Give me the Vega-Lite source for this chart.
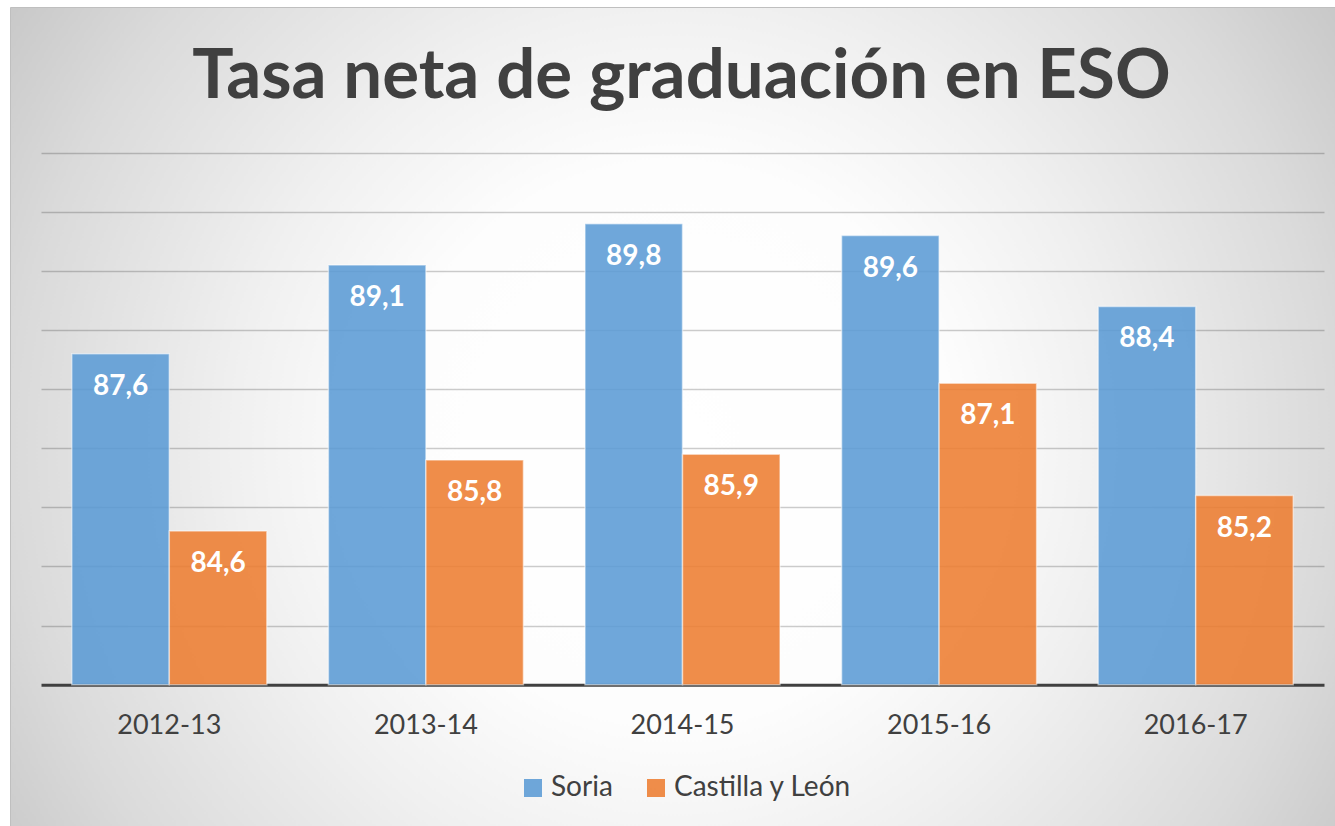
{
  "$schema": "https://vega.github.io/schema/vega-lite/v6.json",
  "width": 1325,
  "height": 819,
  "autosize": {"type": "none"},
  "padding": {"left": 10, "top": 7, "right": 0, "bottom": 0},
  "background": "#ffffff",
  "config": {
    "font": "Lato",
    "locale": {"number": {"decimal": ",", "thousands": ".", "grouping": [3], "currency": ["", " €"]}},
    "view": {
      "stroke": "#bfbfbf",
      "strokeWidth": 1,
      "fill": {
        "gradient": "radial",
        "x1": 0.5, "y1": 0.52, "r1": 0,
        "x2": 0.5, "y2": 0.52, "r2": 0.6,
        "stops": [
          {"offset": 0, "color": "#ffffff"},
          {"offset": 0.35, "color": "#fdfdfd"},
          {"offset": 0.55, "color": "#f0f0f0"},
          {"offset": 0.83, "color": "#dadada"},
          {"offset": 1, "color": "#c8c8c8"}
        ]
      }
    }
  },
  "title": {
    "text": "Tasa neta de graduación en ESO",
    "font": "Lato",
    "fontSize": 69,
    "fontWeight": "bold",
    "color": "#404040",
    "anchor": "middle",
    "frame": "group",
    "baseline": "alphabetic",
    "offset": -160,
    "dx": 9
  },
  "data": {
    "values": [
      {"curso": "2012-13", "serie": "Soria", "valor": 87.6},
      {"curso": "2012-13", "serie": "Castilla y León", "valor": 84.6},
      {"curso": "2013-14", "serie": "Soria", "valor": 89.1},
      {"curso": "2013-14", "serie": "Castilla y León", "valor": 85.8},
      {"curso": "2014-15", "serie": "Soria", "valor": 89.8},
      {"curso": "2014-15", "serie": "Castilla y León", "valor": 85.9},
      {"curso": "2015-16", "serie": "Soria", "valor": 89.6},
      {"curso": "2015-16", "serie": "Castilla y León", "valor": 87.1},
      {"curso": "2016-17", "serie": "Soria", "valor": 88.4},
      {"curso": "2016-17", "serie": "Castilla y León", "valor": 85.2}
    ]
  },
  "encoding": {
    "x": {
      "field": "curso",
      "type": "nominal",
      "sort": null,
      "scale": {"range": [31, 1314], "paddingInner": 0.24, "paddingOuter": 0.12},
      "axis": {
        "title": null,
        "orient": "bottom",
        "offset": -141.3,
        "domainColor": "#404040",
        "domainWidth": 3,
        "ticks": false,
        "tickSize": 0,
        "grid": false,
        "labelAngle": 0,
        "labelFontSize": 27,
        "labelColor": "#404040",
        "labelPadding": 41,
        "labelBaseline": "middle"
      }
    },
    "xOffset": {
      "field": "serie",
      "type": "nominal",
      "sort": ["Soria", "Castilla y León"],
      "scale": {"paddingInner": 0, "paddingOuter": 0}
    },
    "y": {
      "field": "valor",
      "type": "quantitative",
      "scale": {"domain": [79.609, 93.467], "nice": false, "zero": false},
      "axis": {
        "title": null,
        "labels": false,
        "ticks": false,
        "domain": false,
        "grid": true,
        "values": [83, 84, 85, 86, 87, 88, 89, 90, 91],
        "gridColor": "#000000",
        "gridOpacity": 0.2,
        "gridWidth": 1.3
      }
    }
  },
  "layer": [
    {
      "mark": {
        "type": "bar",
        "fillOpacity": 0.88,
        "stroke": "#ffffff",
        "strokeOpacity": 0.5,
        "strokeWidth": 1.5
      },
      "encoding": {
        "y2": {"datum": 82},
        "color": {
          "field": "serie",
          "type": "nominal",
          "sort": ["Soria", "Castilla y León"],
          "scale": {"domain": ["Soria", "Castilla y León"], "range": ["#5b9bd5", "#ed7d31"]},
          "legend": {
            "title": null,
            "orient": "none",
            "legendX": 509,
            "legendY": 767,
            "direction": "horizontal",
            "symbolType": "square",
            "symbolSize": 324,
            "symbolOpacity": 0.88,
            "symbolStrokeWidth": 0,
            "labelFontSize": 28,
            "labelColor": "#404040",
            "labelOffset": 4,
            "labelLimit": 400,
            "columnPadding": 29
          }
        }
      }
    },
    {
      "mark": {
        "type": "text",
        "baseline": "middle",
        "align": "center",
        "dy": 33,
        "fontSize": 28,
        "fontWeight": "bold",
        "color": "#ffffff"
      },
      "encoding": {
        "text": {"field": "valor", "type": "quantitative", "format": ".1f"}
      }
    }
  ]
}
